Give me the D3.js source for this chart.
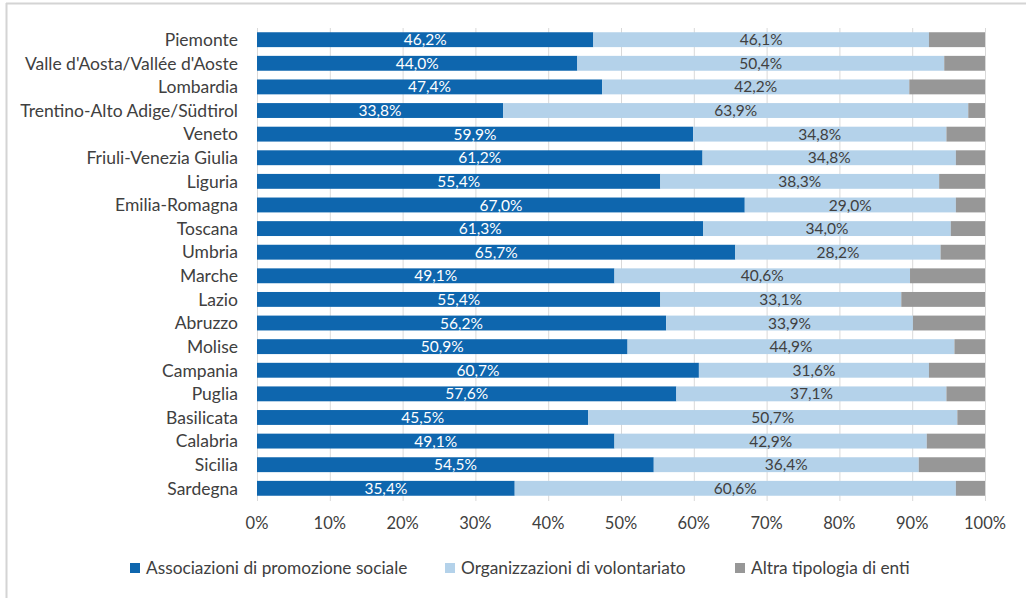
<!DOCTYPE html>
<html lang="it">
<head>
  <meta charset="UTF-8">
  <title>Enti per regione</title>
  <script src="https://d3js.org/d3.v7.min.js"></script>
  <style>
    body { margin: 0; background: #fff; }
    svg text { font-family: Lato, "Open Sans", sans-serif; }
  </style>
</head>
<body>
  <script>
    const regions = [
      'Piemonte', "Valle d'Aosta/Vallée d'Aoste", 'Lombardia', 'Trentino-Alto Adige/Südtirol',
      'Veneto', 'Friuli-Venezia Giulia', 'Liguria', 'Emilia-Romagna', 'Toscana', 'Umbria',
      'Marche', 'Lazio', 'Abruzzo', 'Molise', 'Campania', 'Puglia', 'Basilicata',
      'Calabria', 'Sicilia', 'Sardegna'
    ];
    const promozione = [46.2, 44.0, 47.4, 33.8, 59.9, 61.2, 55.4, 67.0, 61.3, 65.7,
                        49.1, 55.4, 56.2, 50.9, 60.7, 57.6, 45.5, 49.1, 54.5, 35.4];
    const volontariato = [46.1, 50.4, 42.2, 63.9, 34.8, 34.8, 38.3, 29.0, 34.0, 28.2,
                          40.6, 33.1, 33.9, 44.9, 31.6, 37.1, 50.7, 42.9, 36.4, 60.6];
    const altro = [7.7, 5.6, 10.4, 2.3, 5.3, 4.0, 6.3, 4.0, 4.7, 6.1,
                   10.3, 11.5, 9.9, 4.2, 7.7, 5.3, 3.8, 8.0, 9.1, 4.0];
    const seriesNames = ['Associazioni di promozione sociale', 'Organizzazioni di volontariato', 'Altra tipologia di enti'];
    const colors = ['#0e66ae', '#b4d2ea', '#979797'];
    const labelColors = ['#ffffff', '#404040', null];
    const ticks = [0, 10, 20, 30, 40, 50, 60, 70, 80, 90, 100];

    const W = 1026, H = 598;
    const plotLeft = 257, plotRight = 985, plotTop = 28, plotBottom = 500;

    const svg = d3.select('body').append('svg')
      .attr('width', W).attr('height', H);

    // outer frame (top + left edges visible)
    svg.append('line').attr('x1', 6).attr('x2', W).attr('y1', 3.5).attr('y2', 3.5)
      .attr('stroke', '#d4d4d4').attr('stroke-width', 2);
    svg.append('line').attr('x1', 6.5).attr('x2', 6.5).attr('y1', 3).attr('y2', H)
      .attr('stroke', '#d4d4d4').attr('stroke-width', 2);

    const x = d3.scaleLinear().domain([0, 100]).range([plotLeft, plotRight]);
    const y = d3.scaleBand().domain(regions).range([plotTop, plotBottom]).paddingInner(0.37).paddingOuter(0.18);

    // gridlines
    svg.append('g').selectAll('line').data(ticks).enter().append('line')
      .attr('x1', d => x(d) + 0.5).attr('x2', d => x(d) + 0.5)
      .attr('y1', plotTop).attr('y2', plotBottom + 1)
      .attr('stroke', '#d9d9d9').attr('stroke-width', 1);

    const rows = regions.map((r, i) => ({ region: r, values: [promozione[i], volontariato[i], altro[i]] }));

    const rowG = svg.append('g').selectAll('g').data(rows).enter().append('g');
    rowG.each(function (d) {
      const g = d3.select(this);
      let acc = 0;
      d.values.forEach((v, k) => {
        const x0 = acc, x1 = Math.min(acc + v, 100);
        acc += v;
        g.append('rect')
          .attr('x', x(x0)).attr('y', y(d.region))
          .attr('width', x(x1) - x(x0)).attr('height', y.bandwidth())
          .attr('fill', colors[k]);
        if (labelColors[k]) {
          g.append('text')
            .attr('x', (x(x0) + x(x1)) / 2).attr('y', y(d.region) + y.bandwidth() / 2)
            .attr('dy', '0.36em').attr('text-anchor', 'middle')
            .attr('font-size', 15.5).attr('fill', labelColors[k])
            .text(v.toFixed(1).replace('.', ',') + '%');
        }
      });
    });

    // category labels
    svg.append('g').selectAll('text').data(regions).enter().append('text')
      .attr('x', 238).attr('y', d => y(d) + y.bandwidth() / 2).attr('dy', '0.36em')
      .attr('text-anchor', 'end').attr('font-size', 17.5).attr('fill', '#404040')
      .text(d => d);

    // x axis labels
    svg.append('g').selectAll('text').data(ticks).enter().append('text')
      .attr('x', d => x(d)).attr('y', 523).attr('dy', '0.36em')
      .attr('text-anchor', 'middle').attr('font-size', 16.5).attr('fill', '#404040')
      .text(d => d + '%');

    // legend
    const legendX = [130, 445, 735];
    const leg = svg.append('g').selectAll('g').data(seriesNames).enter().append('g')
      .attr('transform', (d, i) => `translate(${legendX[i]},568)`);
    leg.append('rect').attr('x', 0).attr('y', -5).attr('width', 10).attr('height', 10)
      .attr('fill', (d, i) => colors[i]);
    leg.append('text').attr('x', 16).attr('y', 0).attr('dy', '0.36em')
      .attr('font-size', 17.3).attr('fill', '#404040').text(d => d);
  </script>
</body>
</html>
